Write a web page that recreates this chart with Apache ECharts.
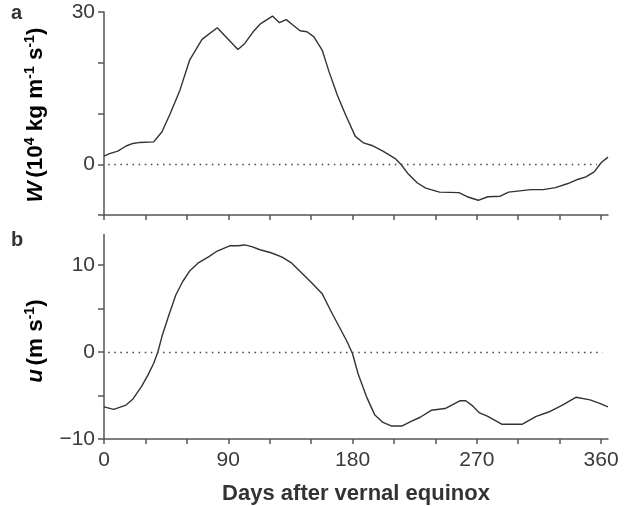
<!DOCTYPE html>
<html>
<head>
<meta charset="utf-8">
<script src="https://cdn.jsdelivr.net/npm/echarts@6/dist/echarts.min.js"></script>
<style>
  html, body { margin: 0; padding: 0; background: #ffffff; }
  #chart { width: 628px; height: 506px; }
</style>
</head>
<body>
<div id="chart"></div>
<script>
// Vertically integrated moisture flux W (10^4 kg m^-1 s^-1) by day after vernal equinox
const wDays = [0, 4, 10, 16, 21, 26, 36, 42, 48, 55, 62, 71, 82, 97, 102, 108, 113, 122, 127, 132, 137, 142, 147, 152, 158, 163, 169, 175, 182, 188, 194, 202, 211, 215, 220, 227, 233, 243, 257, 263, 271, 278, 287, 293, 309, 318, 327, 336, 343, 349, 355, 360, 365];
const wValues = [1.6, 2.1, 2.6, 3.6, 4.1, 4.3, 4.4, 6.4, 10.0, 14.6, 20.5, 24.6, 26.9, 22.6, 23.8, 26.1, 27.6, 29.2, 27.9, 28.5, 27.4, 26.3, 26.1, 25.1, 22.5, 18.2, 13.6, 9.7, 5.5, 4.2, 3.7, 2.6, 1.1, 0.0, -1.8, -3.7, -4.7, -5.5, -5.6, -6.4, -7.1, -6.4, -6.3, -5.5, -5.0, -5.0, -4.6, -3.8, -3.0, -2.5, -1.5, 0.3, 1.4];

// Zonal wind u (m s^-1) by day after vernal equinox
const uDays = [0, 7, 16, 21, 27, 32, 36, 39, 42, 47, 52, 57, 62, 68, 76, 82, 91, 97, 102, 107, 113, 121, 129, 136, 143, 150, 158, 164, 171, 176, 180, 184, 190, 196, 202, 208, 216, 222, 229, 237, 247, 258, 262, 267, 272, 278, 288, 303, 313, 322, 332, 342, 352, 359, 365];
const uValues = [-6.3, -6.6, -6.1, -5.4, -4.0, -2.6, -1.3, 0.0, 1.8, 4.25, 6.55, 8.1, 9.3, 10.2, 10.95, 11.6, 12.2, 12.2, 12.3, 12.1, 11.75, 11.4, 10.9, 10.2, 9.1, 8.0, 6.7, 4.8, 2.7, 1.2, -0.2, -2.5, -5.1, -7.2, -8.1, -8.5, -8.5, -8.0, -7.5, -6.7, -6.5, -5.6, -5.6, -6.2, -7.0, -7.4, -8.3, -8.3, -7.4, -6.9, -6.1, -5.2, -5.5, -5.9, -6.3];

// Axis ticks and labels
const dayTicks = [0, 30, 60, 90, 120, 150, 180, 210, 240, 270, 300, 330, 360];
const dayLabels = [0, 90, 180, 270, 360];
const wTicks = [-10, 0, 10, 20, 30];
const wLabels = [0, 30];
const uTicks = [-10, -5, 0, 5, 10];
const uLabels = [-10, 0, 10];

const zip = (xs, ys) => xs.map((x, i) => [x, ys[i]]);

const AXIS_COLOR = '#555';
const TEXT_COLOR = '#3a3a3a';
const FONT = 'Liberation Sans, Arial, sans-serif';

function fmtNum(v) {
  return v < 0 ? '\u2212' + Math.abs(v) : String(v);
}

function xAxisFor(gridIndex, withLabels) {
  return {
    type: 'value', gridIndex: gridIndex, min: 0, max: 365, interval: 30,
    splitLine: { show: false },
    axisLine: { show: true, onZero: false, lineStyle: { color: AXIS_COLOR, width: 1.5 } },
    axisTick: { show: true, inside: false, length: 5, customValues: dayTicks,
                lineStyle: { color: AXIS_COLOR, width: 1.5 } },
    axisLabel: { show: withLabels, customValues: dayLabels, margin: 11,
                 color: TEXT_COLOR, fontSize: 21, fontFamily: FONT, formatter: fmtNum }
  };
}

function yAxisFor(gridIndex, min, max, interval, ticks, labels) {
  return {
    type: 'value', gridIndex: gridIndex, min: min, max: max, interval: interval,
    splitLine: { show: false },
    axisLine: { show: true, onZero: false, lineStyle: { color: AXIS_COLOR, width: 1.5 } },
    axisTick: { show: true, inside: false, length: 6, customValues: ticks,
                lineStyle: { color: AXIS_COLOR, width: 1.5 } },
    axisLabel: { show: true, customValues: labels, margin: 9,
                 color: TEXT_COLOR, fontSize: 21, fontFamily: FONT, formatter: fmtNum }
  };
}

function zeroLine(x0, x1) {
  return {
    silent: true, symbol: 'none', label: { show: false },
    lineStyle: { color: '#444', width: 1.3, type: [1.5, 4.6] },
    data: [[{ coord: [x0, 0] }, { coord: [x1, 0] }]]
  };
}

const lineSeries = (xi, yi, data, zl) => ({
  type: 'line', xAxisIndex: xi, yAxisIndex: yi, data: data,
  showSymbol: false, smooth: false, animation: false,
  lineStyle: { color: '#333', width: 1.4 },
  markLine: zl
});

const supStyle = { fontSize: 14, fontWeight: 'bold', fontFamily: FONT, color: '#333', verticalAlign: 'top', lineHeight: 26 };
const baseStyle = { fontSize: 22.5, fontWeight: 'bold', fontFamily: FONT, color: '#333', lineHeight: 26 };
const italStyle = Object.assign({}, baseStyle, { fontStyle: 'italic' });

const chart = echarts.init(document.getElementById('chart'), null, { renderer: 'canvas' });
chart.setOption({
  backgroundColor: '#ffffff',
  animation: false,
  grid: [
    { left: 104, right: 20, top: 12, height: 203 },
    { left: 104, right: 20, top: 234.5, height: 204.5 }
  ],
  xAxis: [xAxisFor(0, false), xAxisFor(1, true)],
  yAxis: [
    yAxisFor(0, -10, 30, 10, wTicks, wLabels),
    yAxisFor(1, -10, 13.5, 5, uTicks, uLabels)
  ],
  series: [
    lineSeries(0, 0, zip(wDays, wValues), zeroLine(3, 357)),
    lineSeries(1, 1, zip(uDays, uValues), zeroLine(3, 361))
  ],
  graphic: [
    { type: 'text', left: 11, top: 3, style: { text: 'a', font: 'bold 20px ' + FONT, fill: '#333' } },
    { type: 'text', left: 11, top: 230, style: { text: 'b', font: 'bold 20px ' + FONT, fill: '#333' } },
    {
      type: 'text', x: 36, y: 115, rotation: Math.PI / 2,
      style: {
        text: '{i|W} {b|(10}{s|4}{b| kg m}{s|-1}{b| s}{s|-1}{b|)}',
        align: 'center', verticalAlign: 'middle',
        rich: { i: italStyle, b: baseStyle, s: supStyle }
      }
    },
    {
      type: 'text', x: 36, y: 341, rotation: Math.PI / 2,
      style: {
        text: '{i|u} {b|(m s}{s|-1}{b|)}',
        align: 'center', verticalAlign: 'middle',
        rich: { i: italStyle, b: baseStyle, s: supStyle }
      }
    },
    {
      type: 'text', x: 356, y: 494,
      style: { text: 'Days after vernal equinox', font: 'bold 22px ' + FONT, fill: '#333',
               align: 'center', verticalAlign: 'middle' }
    }
  ]
});
</script>
</body>
</html>
